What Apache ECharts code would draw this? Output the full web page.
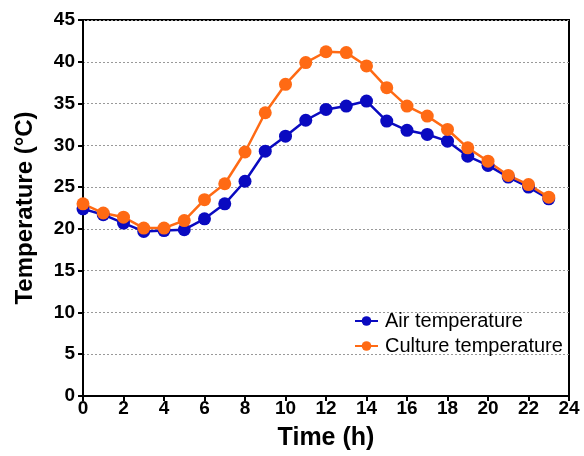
<!DOCTYPE html>
<html>
<head>
<meta charset="utf-8">
<script src="https://cdn.jsdelivr.net/npm/echarts@6/dist/echarts.min.js"></script>
<style>
  html, body { margin: 0; padding: 0; background: #fff; }
  #chart { width: 584px; height: 456px; }
</style>
</head>
<body>
<div id="chart"></div>
<script>
// Hourly temperatures over one day
const hours = [0, 1, 2, 3, 4, 5, 6, 7, 8, 9, 10, 11, 12, 13, 14, 15, 16, 17, 18, 19, 20, 21, 22, 23];
const airTemperature = [22.4, 21.7, 20.7, 19.7, 19.8, 19.9, 21.2, 23.0, 25.7, 29.3, 31.1, 33.0, 34.3, 34.7, 35.3, 32.9, 31.8, 31.3, 30.5, 28.7, 27.6, 26.2, 25.0, 23.6];
const cultureTemperature = [23.0, 21.9, 21.4, 20.1, 20.1, 21.0, 23.5, 25.4, 29.2, 33.9, 37.3, 39.9, 41.2, 41.1, 39.5, 36.9, 34.7, 33.5, 31.9, 29.7, 28.1, 26.4, 25.3, 23.8];
const seriesNames = ['Air temperature', 'Culture temperature'];
const xTicks = { min: 0, max: 24, step: 2 };
const yTicks = { min: 0, max: 45, step: 5 };

const pairs = (vals) => hours.map((h, i) => [h, vals[i]]);
const font = 'Liberation Sans, Arial, sans-serif';
const blue = '#0A0AC0';
const orange = '#FF6A14';

const chart = echarts.init(document.getElementById('chart'), null, { renderer: 'canvas' });
chart.setOption({
  animation: false,
  backgroundColor: '#fff',
  grid: {
    left: 83, right: 15, top: 20, bottom: 60,
    show: true, borderColor: '#000', borderWidth: 2
  },
  legend: {
    data: seriesNames,
    orient: 'vertical',
    left: 349, top: 306,
    itemWidth: 23, itemHeight: 12, itemGap: 5,
    textStyle: { fontFamily: font, fontSize: 20, lineHeight: 20, color: '#000', padding: [0, 0, 0, 2] }
  },
  xAxis: {
    type: 'value',
    min: xTicks.min, max: xTicks.max, interval: xTicks.step,
    name: 'Time (h)', nameLocation: 'middle', nameGap: 30,
    nameTextStyle: { fontFamily: font, fontSize: 25, fontWeight: 'bold', color: '#000' },
    axisLine: { show: true, lineStyle: { color: '#000', width: 2 } },
    axisTick: { show: true, length: 5, lineStyle: { color: '#000', width: 2 } },
    axisLabel: { fontFamily: font, fontSize: 19, fontWeight: 'bold', color: '#000', margin: 3 },
    splitLine: { show: false }
  },
  yAxis: {
    type: 'value',
    min: yTicks.min, max: yTicks.max, interval: yTicks.step,
    name: 'Temperature (°C)', nameLocation: 'middle', nameGap: 46,
    nameTextStyle: { fontFamily: font, fontSize: 24, fontWeight: 'bold', color: '#000' },
    axisLine: { show: true, lineStyle: { color: '#000', width: 2 } },
    axisTick: { show: true, length: 5, lineStyle: { color: '#000', width: 2 } },
    axisLabel: { fontFamily: font, fontSize: 19, fontWeight: 'bold', color: '#000', margin: 8 },
    splitLine: { show: true, lineStyle: { color: '#999', type: [2, 2], width: 1 } }
  },
  series: [
    {
      name: seriesNames[0], type: 'line', data: pairs(airTemperature),
      symbol: 'circle', symbolSize: 13,
      color: blue,
      lineStyle: { width: 2.5, color: blue },
      itemStyle: { color: blue }
    },
    {
      name: seriesNames[1], type: 'line', data: pairs(cultureTemperature),
      symbol: 'circle', symbolSize: 13,
      color: orange,
      lineStyle: { width: 2.5, color: orange },
      itemStyle: { color: orange }
    }
  ]
});
</script>
</body>
</html>
